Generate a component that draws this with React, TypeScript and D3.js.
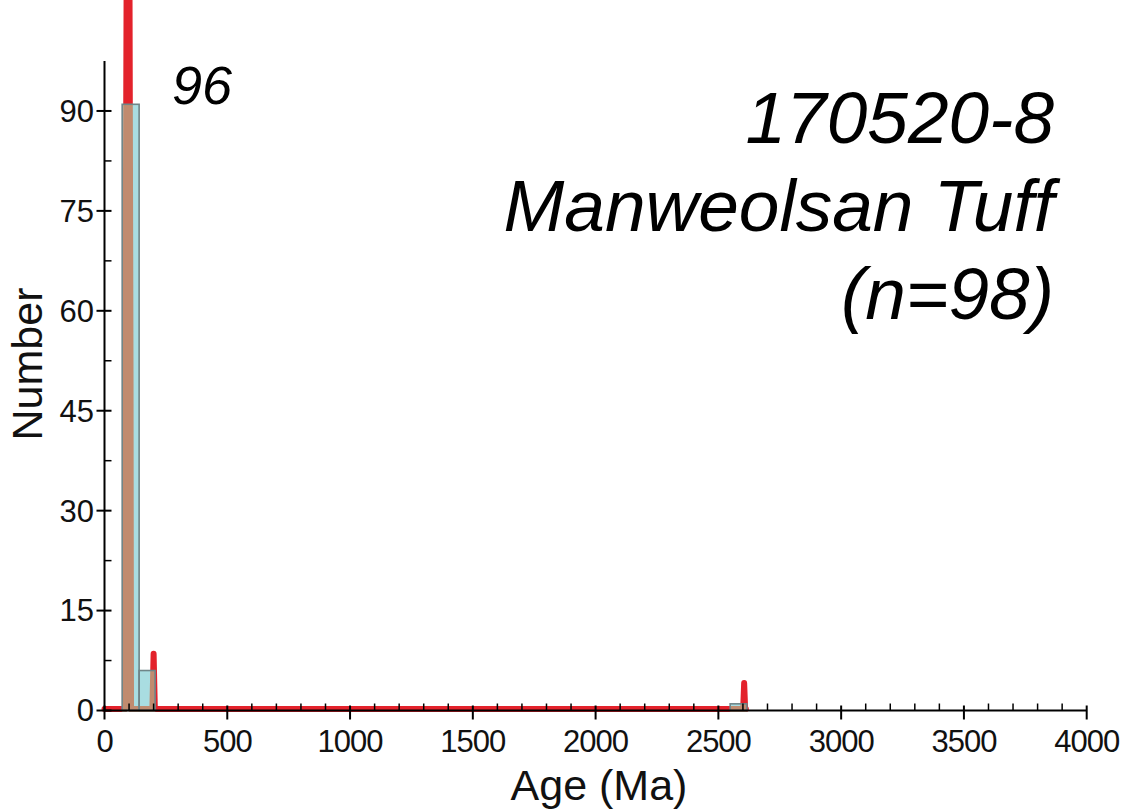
import React from "react";
import * as d3 from "d3";

// Histogram bins (Ma) and counts
const binStart = [72, 141, 2548];
const binEnd = [141, 206, 2616];
const binCount = [91, 6, 1];

// Probability density curve (scaled to count units)
const pdpAge = [0, 70, 83, 85, 91, 96, 101, 106, 108, 125, 150, 180, 195, 200, 205, 220, 1000, 2590, 2601, 2605, 2609, 2612];
const pdpValue = [0, 0, 0, 50, 120, 260, 120, 50, 0, 0, 0, 0, 0, 8.3, 0, 0, 0, 0, 0, 3.9, 0, 0];

const xMajorTicks = [0, 500, 1000, 1500, 2000, 2500, 3000, 3500, 4000];
const yMajorTicks = [0, 15, 30, 45, 60, 75, 90];

const titleLines = ["170520-8", "Manweolsan Tuff", "(n=98)"];
const peakLabel = "96";

const W = 1129;
const H = 811;
const FONT = "'Liberation Sans', Arial, sans-serif";

export default function App() {
  const x = d3.scaleLinear().domain([0, 4000]).range([104.5, 1086.7]);
  const y = d3.scaleLinear().domain([0, 97.5]).range([710.5, 61]);

  const pts: [number, number][] = pdpAge.map((a, i) => [a, pdpValue[i]]);
  const line = d3
    .line<[number, number]>()
    .x((d) => x(d[0]))
    .y((d) => y(d[1]));
  const pathD = line(pts) || "";

  const xMinor = d3.range(0, 4001, 100).filter((v) => v % 500 !== 0);
  const yMinor = d3.range(7.5, 97.5, 15);

  const red = "#e3222b";
  const brown = "#c08b6f";
  const cyan = "#a9dde1";
  const barStroke = "#6f8588";
  const curveShift = "translate(0,-1.5)";

  return (
    <svg
      width={W}
      height={H}
      style={{ position: "absolute", left: 0, top: 0, background: "#fff" }}
    >
      <defs>
        <clipPath id="barsClip">
          {binCount.map((c, i) => (
            <rect
              key={i}
              x={x(binStart[i])}
              y={y(c)}
              width={x(binEnd[i]) - x(binStart[i])}
              height={y(0) - y(c) + 4}
            />
          ))}
        </clipPath>
      </defs>

      {/* red density curve */}
      <path
        d={pathD}
        transform={curveShift}
        fill={red}
        stroke={red}
        strokeWidth={6}
        strokeLinejoin="round"
        strokeLinecap="round"
      />

      {/* bars */}
      {binCount.map((c, i) => (
        <rect
          key={"b" + i}
          x={x(binStart[i])}
          y={y(c)}
          width={x(binEnd[i]) - x(binStart[i])}
          height={y(0) - y(c)}
          fill={cyan}
        />
      ))}

      {/* curve seen through bars */}
      <g clipPath="url(#barsClip)">
        <path
          d={pathD}
          transform={curveShift}
          fill={brown}
          stroke={brown}
          strokeWidth={6}
          strokeLinejoin="round"
          strokeLinecap="round"
        />
      </g>

      {binCount.map((c, i) => (
        <rect
          key={"s" + i}
          x={x(binStart[i])}
          y={y(c)}
          width={x(binEnd[i]) - x(binStart[i])}
          height={y(0) - y(c)}
          fill="none"
          stroke={barStroke}
          strokeWidth={1.6}
        />
      ))}

      {/* axes */}
      <g stroke="#000" strokeWidth={2}>
        <line x1={x(0)} x2={x(4000)} y1={y(0)} y2={y(0)} />
        <line x1={x(0)} x2={x(0)} y1={y(0)} y2={y(97.5)} />
        {xMajorTicks.map((t) => (
          <line key={"xm" + t} x1={x(t)} x2={x(t)} y1={y(0) - 5} y2={y(0) + 9} />
        ))}
        {xMinor.map((t) => (
          <line key={"xn" + t} x1={x(t)} x2={x(t)} y1={y(0) - 7} y2={y(0)} strokeWidth={1.5} />
        ))}
        {yMajorTicks.map((t) => (
          <line key={"ym" + t} x1={x(0) - 8} x2={x(0) + 7} y1={y(t)} y2={y(t)} />
        ))}
        {yMinor.map((t) => (
          <line key={"yn" + t} x1={x(0)} x2={x(0) + 7} y1={y(t)} y2={y(t)} strokeWidth={1.5} />
        ))}
      </g>

      {/* tick labels */}
      <g fontFamily={FONT} fontSize={31} fill="#111">
        {xMajorTicks.map((t) => (
          <text key={"xl" + t} x={x(t)} y={752} textAnchor="middle" letterSpacing={-1}>
            {t}
          </text>
        ))}
        {yMajorTicks.map((t) => (
          <text key={"yl" + t} x={94} y={y(t)} dy="0.35em" textAnchor="end">
            {t}
          </text>
        ))}
      </g>

      {/* axis titles */}
      <text
        x={599}
        y={800}
        textAnchor="middle"
        fontFamily={FONT}
        fontSize={43}
        fill="#111"
      >
        Age (Ma)
      </text>
      <text
        transform={`translate(42, 364) rotate(-90)`}
        textAnchor="middle"
        fontFamily={FONT}
        fontSize={43}
        fill="#111"
      >
        Number
      </text>

      {/* peak label */}
      <text x={172} y={104} fontFamily={FONT} fontSize={54} fontStyle="italic" fill="#000">
        {peakLabel}
      </text>

      {/* sample title */}
      <g fontFamily={FONT} fontSize={73} fontStyle="italic" fill="#000" textAnchor="end">
        {titleLines.map((l, i) => (
          <text key={l} x={1054} y={143 + i * 88} xmlSpace="preserve">
            {l}
          </text>
        ))}
      </g>
    </svg>
  );
}
